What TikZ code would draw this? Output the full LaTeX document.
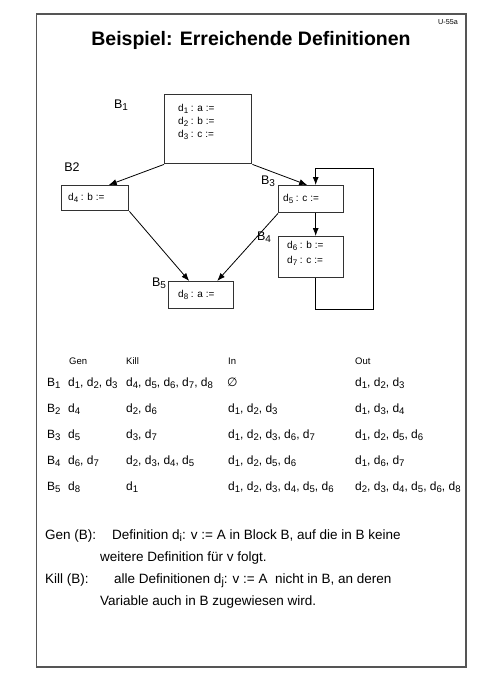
\documentclass[tikz,border=0pt]{standalone}
\usepackage{graphicx}
\usepackage{fontspec}
\setmainfont{Liberation Sans}
\newfontfamily\symfont{DejaVu Sans}
\usetikzlibrary{arrows.meta, positioning}
\definecolor{framegray}{RGB}{85,85,85}
\definecolor{boxgray}{RGB}{50,50,50}
\newcommand{\sub}[1]{\raisebox{-0.35ex}{\scalebox{0.8}{#1}}}
\newcommand{\dd}[1]{d\sub{#1}}
\newcommand{\bb}[1]{B\sub{#1}}
\tikzset{
  block/.style={rectangle, draw=boxgray, line width=1.4pt, inner sep=0pt, anchor=north west},
  codetext/.style={font=\fontsize{10}{13}\selectfont, align=left, inner sep=0pt, anchor=north west},
  blocklabel/.style={font=\fontsize{12.5}{14}\selectfont, inner sep=0pt},
  celltext/.style={font=\fontsize{12}{14}\selectfont, inner sep=0pt, anchor=base west},
  headtext/.style={font=\fontsize{9.5}{11}\selectfont, inner sep=0pt, anchor=base west},
  notetext/.style={font=\fontsize{13.5}{16}\selectfont, inner sep=0pt, anchor=base west},
  arrow/.style={-{Latex[length=8pt,width=6pt]}, line width=0.8pt},
}
\begin{document}
\begin{tikzpicture}[x=1pt, y=-1pt]
  \useasboundingbox (0,0) rectangle (480,678);
  \draw[framegray, line width=1.8pt] (36.5,14) rectangle (465.7,666.7);

  \node[font=\fontsize{7.2}{8}\selectfont, inner sep=0pt] (tag) at (448,22) {U-55a};
  \node[font=\fontsize{19.5}{22}\selectfont\bfseries, inner sep=0pt] (title) at (251,40) {Beispiel: Erreichende Definitionen};

  % flow graph
  \node[block, minimum width=87, minimum height=69] (b1) at (164,94) {};
  \node[block, minimum width=67, minimum height=25] (b2) at (61,185) {};
  \node[block, minimum width=65, minimum height=27] (b3) at (278,185) {};
  \node[block, minimum width=65, minimum height=41] (b4) at (278,236) {};
  \node[block, minimum width=65, minimum height=27] (b5) at (168,281) {};

  \node[codetext, below right=10pt and 14pt of b1.north west] (b1code) {\dd1 : a :=\\ \dd2 : b :=\\ \dd3 : c :=};
  \node[codetext, anchor=west, right=7pt of b2.west] (b2code) {\dd4 : b :=};
  \node[codetext, anchor=west, right=5pt of b3.west] (b3code) {\dd5 : c :=};
  \node[codetext, below right=5pt and 9pt of b4.north west] (b4code) {\dd6 : b :=\\[2pt] \dd7 : c :=};
  \node[codetext, anchor=west, right=10pt of b5.west] (b5code) {\dd8 : a :=};

  \node[blocklabel] (l1) at (121,105) {\bb1};
  \node[blocklabel] (l2) at (72,167) {B2};
  \node[blocklabel] (l3) at (268,181) {\bb3};
  \node[blocklabel] (l4) at (264,237) {\bb4};
  \node[blocklabel] (l5) at (159,283) {\bb5};

  \draw[arrow] (b1.south west) -- ([xshift=13.5pt]b2.north);
  \draw[arrow] (b1.south east) -- ([xshift=-4pt]b3.north);
  \draw[arrow] (b2.south east) -- ([xshift=-12pt]b5.north);
  \draw[arrow] (b3.south west) -- ([xshift=16pt]b5.north);
  \draw[arrow] ([xshift=4.5pt]b3.south) -- ([xshift=4.5pt]b4.north);
  \draw[arrow] ([xshift=4.5pt]b4.south) -- ++(0,31) -- ++(58,0) -- ++(0,-141) -- ++(-58,0) -- ([xshift=4.5pt]b3.north);

  % table
  \node[headtext] (hgen) at (69,364.5) {Gen};
  \node[headtext] (hkill) at (126,364.5) {Kill};
  \node[headtext] (hin) at (228,364.5) {In};
  \node[headtext] (hout) at (355,364.5) {Out};

  \node[celltext] (r1) at (47,386) {\bb1};
  \node[celltext] (r1gen) at (68,386) {\dd1, \dd2, \dd3};
  \node[celltext] (r1kill) at (126,386) {\dd4, \dd5, \dd6, \dd7, \dd8};
  \node[celltext] (r1in) at (227,386) {{\symfont ∅}};
  \node[celltext] (r1out) at (355,386) {\dd1, \dd2, \dd3};

  \node[celltext] (r2) at (47,412) {\bb2};
  \node[celltext] (r2gen) at (68,412) {\dd4};
  \node[celltext] (r2kill) at (126,412) {\dd2, \dd6};
  \node[celltext] (r2in) at (228,412) {\dd1, \dd2, \dd3};
  \node[celltext] (r2out) at (355,412) {\dd1, \dd3, \dd4};

  \node[celltext] (r3) at (47,438) {\bb3};
  \node[celltext] (r3gen) at (68,438) {\dd5};
  \node[celltext] (r3kill) at (126,438) {\dd3, \dd7};
  \node[celltext] (r3in) at (228,438) {\dd1, \dd2, \dd3, \dd6, \dd7};
  \node[celltext] (r3out) at (355,438) {\dd1, \dd2, \dd5, \dd6};

  \node[celltext] (r4) at (47,464) {\bb4};
  \node[celltext] (r4gen) at (68,464) {\dd6, \dd7};
  \node[celltext] (r4kill) at (126,464) {\dd2, \dd3, \dd4, \dd5};
  \node[celltext] (r4in) at (228,464) {\dd1, \dd2, \dd5, \dd6};
  \node[celltext] (r4out) at (355,464) {\dd1, \dd6, \dd7};

  \node[celltext] (r5) at (47,490) {\bb5};
  \node[celltext] (r5gen) at (68,490) {\dd8};
  \node[celltext] (r5kill) at (126,490) {\dd1};
  \node[celltext] (r5in) at (228,490) {\dd1, \dd2, \dd3, \dd4, \dd5, \dd6};
  \node[celltext] (r5out) at (355,490) {\dd2, \dd3, \dd4, \dd5, \dd6, \dd8};

  % notes
  \node[notetext] (gen) at (45,539) {Gen (B):};
  \node[notetext] (gendef) at (112,539) {Definition d\sub{i}: v := A in Block B, auf die in B keine};
  \node[notetext] (gendef2) at (100,561) {weitere Definition für v folgt.};
  \node[notetext] (kill) at (45,583) {Kill (B):};
  \node[notetext] (killdef) at (114,583) {alle Definitionen d\sub{j}: v := A\ \ nicht in B, an deren};
  \node[notetext] (killdef2) at (100,605) {Variable auch in B zugewiesen wird.};
\end{tikzpicture}
\end{document}
